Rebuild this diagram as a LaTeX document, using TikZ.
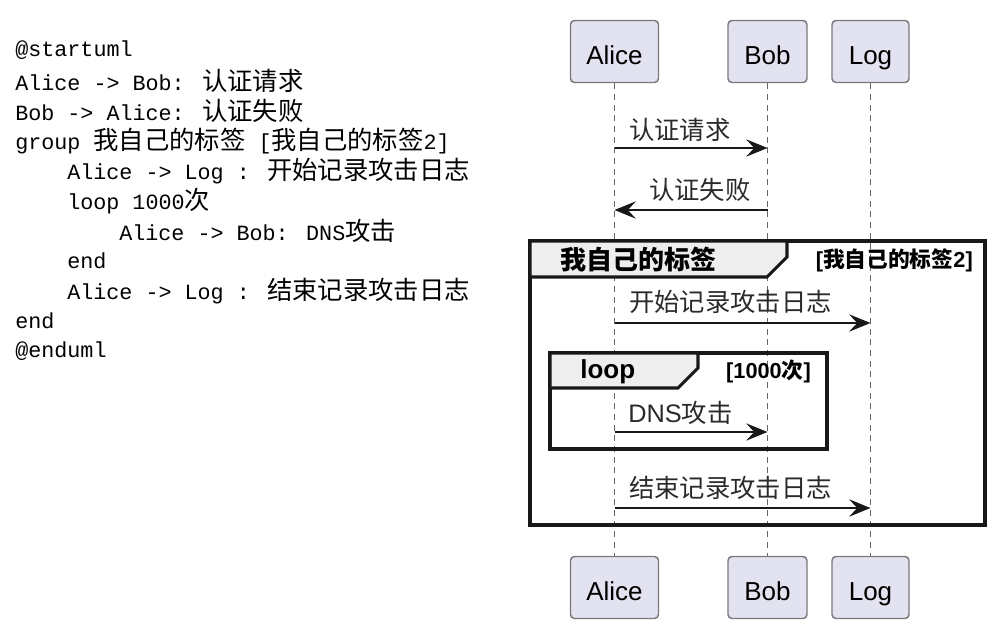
\documentclass[tikz,border=0pt]{standalone}
\usepackage{fontspec}
\setmainfont{Liberation Sans}
\newfontfamily\cjk{Noto Sans CJK SC}
\newfontfamily\monof{Liberation Mono}
\usetikzlibrary{arrows.meta}
\definecolor{partfill}{HTML}{E2E2F0}
\definecolor{partborder}{HTML}{7A7A7A}
\definecolor{tabfill}{HTML}{EEEEEE}
\definecolor{lifecol}{HTML}{666666}
\definecolor{msgtext}{HTML}{2A2A2A}
\definecolor{inkcol}{HTML}{181818}
\begin{document}
\begin{tikzpicture}[x=0.75pt,y=-0.75pt,
  code/.style={anchor=west,inner sep=0pt,font=\monof\fontsize{16.3}{19}\selectfont},
  part/.style={draw=partborder,fill=partfill,rounded corners=3pt,line width=1.1pt,
    minimum height=46.5pt,inner sep=0pt,text height=19pt,text depth=0pt,
    font=\fontsize{19.5}{22}\selectfont},
  life/.style={draw=lifecol,line width=0.8pt,dash pattern=on 4.5pt off 3.5pt},
  msg/.style={draw=inkcol,line width=1.4pt,-{Stealth[length=16pt,width=13pt,inset=6pt]}},
  msglabel/.style={anchor=west,inner sep=0pt,text=msgtext,font=\fontsize{19}{22}\selectfont},
  frame/.style={draw=inkcol,line width=2.3pt},
  tab/.style={draw=inkcol,line width=2.3pt,fill=tabfill,line join=miter},
  grouptitle/.style={inner sep=0pt,font=\bfseries\fontsize{19.5}{22}\selectfont},
  guard/.style={inner sep=0pt,anchor=east,font=\bfseries\fontsize{16.3}{20}\selectfont}
]
\useasboundingbox (0,0) rectangle (1000,635);
\newcommand{\cj}[1]{{\cjk\fontsize{19}{22}\selectfont #1}}
\newcommand{\cjb}[1]{{\cjk\bfseries #1}}

% ---------- code listing ----------
\node[code] (c1)  at (15,50)  {@startuml};
\node[code] (c2)  at (15,81)  {Alice -> Bob: \cj{认证请求}};
\node[code] (c3)  at (15,111) {Bob -> Alice: \cj{认证失败}};
\node[code] (c4)  at (15,141) {group \cj{我自己的标签} [\cj{我自己的标签}2]};
\node[code] (c5)  at (67,171) {Alice -> Log : \cj{开始记录攻击日志}};
\node[code] (c6)  at (67,201) {loop 1000\cj{次}};
\node[code] (c7)  at (119,231) {Alice -> Bob: DNS\cj{攻击}};
\node[code] (c8)  at (67,261) {end};
\node[code] (c9)  at (67,291) {Alice -> Log : \cj{结束记录攻击日志}};
\node[code] (c10) at (15,321) {end};
\node[code] (c11) at (15,351) {@enduml};

% ---------- participants ----------
\node[part,minimum width=66pt]    (aliceT) at (614.5,51.5)  {Alice};
\node[part,minimum width=59.25pt] (bobT)   at (767.5,51.5)  {Bob};
\node[part,minimum width=57.75pt] (logT)   at (870.5,51.5)  {Log};
\node[part,minimum width=66pt]    (aliceB) at (614.5,587.5) {Alice};
\node[part,minimum width=59.25pt] (bobB)   at (767.5,587.5) {Bob};
\node[part,minimum width=57.75pt] (logB)   at (870.5,587.5) {Log};

\draw[life] (aliceT.south) -- (aliceB.north);
\draw[life] (bobT.south) -- (bobB.north);
\draw[life] (logT.south) -- (logB.north);

% ---------- messages before group ----------
\coordinate (m1a) at (614.5,148); \coordinate (m1b) at (767.5,148);
\draw[msg] (m1a) -- (m1b);
\node[msglabel] (l1) at (629,130) {\cjk 认证请求};

\coordinate (m2a) at (767.5,210); \coordinate (m2b) at (614.5,210);
\draw[msg] (m2a) -- (m2b);
\node[msglabel] (l2) at (649,190) {\cjk 认证失败};

% ---------- group frame ----------
\draw[frame] (530,241) rectangle (985,525);
\draw[tab] (530,241) -- (787,241) -- (787,257) -- (767,277) -- (530,277) -- cycle;
\node[grouptitle,anchor=west] (gt) at (560,260) {\cjk 我自己的标签};
\node[guard] (gg) at (973,260) {[\cjb{我自己的标签}2]};

\coordinate (m3a) at (614.5,323); \coordinate (m3b) at (870.5,323);
\draw[msg] (m3a) -- (m3b);
\node[msglabel] (l3) at (629,302) {\cjk 开始记录攻击日志};

% ---------- loop frame ----------
\draw[frame] (550,353) rectangle (827,449);
\draw[tab] (550,353) -- (698,353) -- (698,368) -- (678,388) -- (550,388) -- cycle;
\node[grouptitle,anchor=west] (lt) at (580,372) {loop};
\node[guard] (lg) at (811,371) {[1000\cjb{次}]};

\coordinate (m4a) at (614.5,432); \coordinate (m4b) at (767.5,432);
\draw[msg] (m4a) -- (m4b);
\node[msglabel] (l4) at (628,413) {DNS{\cjk 攻击}};

\coordinate (m5a) at (614.5,508); \coordinate (m5b) at (870.5,508);
\draw[msg] (m5a) -- (m5b);
\node[msglabel] (l5) at (629,488) {\cjk 结束记录攻击日志};
\end{tikzpicture}
\end{document}
